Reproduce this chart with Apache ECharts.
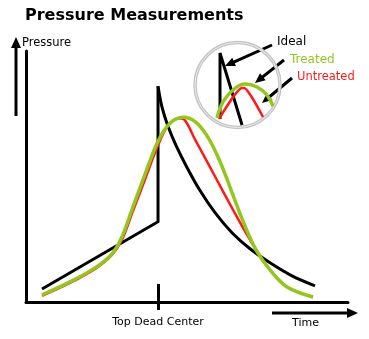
<!DOCTYPE html>
<html><head><meta charset="utf-8">
<script src="https://cdn.jsdelivr.net/npm/echarts@6/dist/echarts.min.js"></script>
<style>html,body{margin:0;padding:0;background:#fff}#c{width:369px;height:339px}</style>
</head><body><div id="c"></div><script>
// Main chart data (time 0..100, pressure 0..100)
const idealRise = [[4.97,5.2],[41,32],[41,86]];
const idealDecay = [[41,86],[42.24,77.6],[44.1,70],[46.58,62.4],[50,53.6],[54.04,44.4],[58.7,35.6],[63.98,27.6],[69.57,21.2],[75.78,15.6],[82.61,10.4],[89.75,6.4]];
const treated = [[4.97,2.8],[13.66,8],[21.43,13.6],[26.71,19.2],[29.81,26],[32.92,36.8],[36.96,50.8],[40.99,64],[44.72,71.2],[48.76,73.6],[52.8,71.6],[56.52,65.6],[60.25,56],[63.98,43.6],[67.7,31.2],[71.43,20.8],[75.78,12.8],[81.06,6],[89.13,2]];
const untreated = [[4.97,2.4],[13.66,7.6],[21.43,13.2],[26.71,18.8],[29.81,24.8],[32.92,35.2],[36.96,48.8],[40.99,62.4],[44.1,70.4],[47.2,73.2],[49.07,72.8],[52.48,64.8],[56.52,55.2],[60.56,45.6],[64.6,36],[68.63,26.8],[72.05,19.6],[75.78,12.8],[81.06,6],[89.13,2]];
// Inset (magnified) data
const insetIdeal = [[28.4,11.4],[28.4,86.4],[55.6,4.5]];
const insetTreated = [[24.7,12.5],[32.1,30.7],[44.4,44.3],[59.3,51.1],[74.1,47.7],[86.4,38.6],[93.8,26.1]];
const insetUntreated = [[27.2,11.4],[55.6,46.6],[58,46.6],[81.5,13.6]];
const tdcValue = 41;
const tickLabels = ['Top Dead Center'];
const names = {title:'Pressure Measurements', y:'Pressure', x:'Time', ideal:'Ideal', treated:'Treated', untreated:'Untreated'};

const GREEN = '#93c61f', RED = '#ff1a1a', FONT = 'DejaVu Sans';

function arrow(x1,y1,x2,y2,hl,hw){
  hl = hl||10; hw = hw||4.5;
  const dx=x2-x1, dy=y2-y1, L=Math.hypot(dx,dy), ux=dx/L, uy=dy/L;
  const bx=x2-ux*hl, by=y2-uy*hl;
  return [
    {type:'line', shape:{x1:x1,y1:y1,x2:bx+ux*1,y2:by+uy*1}, style:{stroke:'#000',lineWidth:3}},
    {type:'polygon', shape:{points:[[x2,y2],[bx-uy*hw,by+ux*hw],[bx+uy*hw,by-ux*hw]]}, style:{fill:'#000'}}
  ];
}

const chart = echarts.init(document.getElementById('c'));
chart.setOption({
  animation:false,
  title:{text:names.title, left:20, top:3, textStyle:{fontFamily:FONT, fontSize:16, fontWeight:'bold', color:'#000'}},
  grid:[{left:26, right:21, top:51, bottom:37},{left:197, top:41, width:81, height:88}],
  xAxis:[
    {type:'value', min:0, max:100, gridIndex:0, splitLine:{show:false},
     axisLine:{show:true, onZero:false, lineStyle:{color:'#000', width:3}},
     axisTick:{show:true, customValues:[tdcValue], length:8, lineStyle:{color:'#000', width:3}},
     axisLabel:{show:true, customValues:[tdcValue], margin:15, formatter:function(){return tickLabels[0];}, fontFamily:FONT, fontSize:11, color:'#000'}},
    {type:'value', min:0, max:100, gridIndex:1, show:false}
  ],
  yAxis:[
    {type:'value', min:0, max:100, gridIndex:0, splitLine:{show:false},
     axisLine:{show:true, onZero:false, lineStyle:{color:'#000', width:3}},
     axisTick:{show:false}, axisLabel:{show:false}},
    {type:'value', min:0, max:100, gridIndex:1, show:false}
  ],
  series:[
    {type:'line', data:idealRise, showSymbol:false, lineStyle:{color:'#000', width:3, join:'miter'}, z:2,
     markLine:{silent:true, symbol:'none', label:{show:false}, lineStyle:{color:'#000', width:3, type:'solid'},
       data:[[{coord:[tdcValue,0]},{coord:[tdcValue,7.2]}]]}},
    {type:'line', data:idealDecay, showSymbol:false, smooth:0.3, lineStyle:{color:'#000', width:3}, z:2},
    {type:'line', data:untreated, showSymbol:false, smooth:0.3, lineStyle:{color:RED, width:2.5}, z:3},
    {type:'line', data:treated, showSymbol:false, smooth:0.35, lineStyle:{color:GREEN, width:3.5}, z:4},
    {type:'line', xAxisIndex:1, yAxisIndex:1, data:insetIdeal, showSymbol:false, lineStyle:{color:'#000', width:3}, z:5},
    {type:'line', xAxisIndex:1, yAxisIndex:1, data:insetUntreated, showSymbol:false, smooth:0.2, lineStyle:{color:RED, width:2.5}, z:6},
    {type:'line', xAxisIndex:1, yAxisIndex:1, data:insetTreated, showSymbol:false, smooth:0.4, lineStyle:{color:GREEN, width:3.5}, z:7}
  ],
  graphic:[
    {type:'circle', shape:{cx:237.5, cy:85, r:42.5}, style:{fill:null, stroke:'#c4c4c4', lineWidth:3.5}, z:1},
    {type:'circle', shape:{cx:237.5, cy:85, r:42.5}, style:{fill:null, stroke:'#ebebeb', lineWidth:1}, z:1},
    {type:'text', left:22, top:37, style:{text:names.y, font:'11.5px "DejaVu Sans"', fill:'#000'}, z:10},
    {type:'text', left:277, top:36, style:{text:names.ideal, font:'12px "DejaVu Sans"', fill:'#000'}, z:10},
    {type:'text', left:290, top:54, style:{text:names.treated, font:'12px "DejaVu Sans"', fill:GREEN}, z:10},
    {type:'text', left:297, top:71, style:{text:names.untreated, font:'11.5px "DejaVu Sans"', fill:RED}, z:10},
    {type:'text', left:292, top:318, style:{text:names.x, font:'11px "DejaVu Sans"', fill:'#000'}, z:10}
  ].concat(arrow(16,116,16,37,11,5)).concat(arrow(272,313,358,313,11,5))
   .concat(arrow(272,45,225,66)).concat(arrow(284,60,255,83)).concat(arrow(292,78,262,103))
});
</script></body></html>
